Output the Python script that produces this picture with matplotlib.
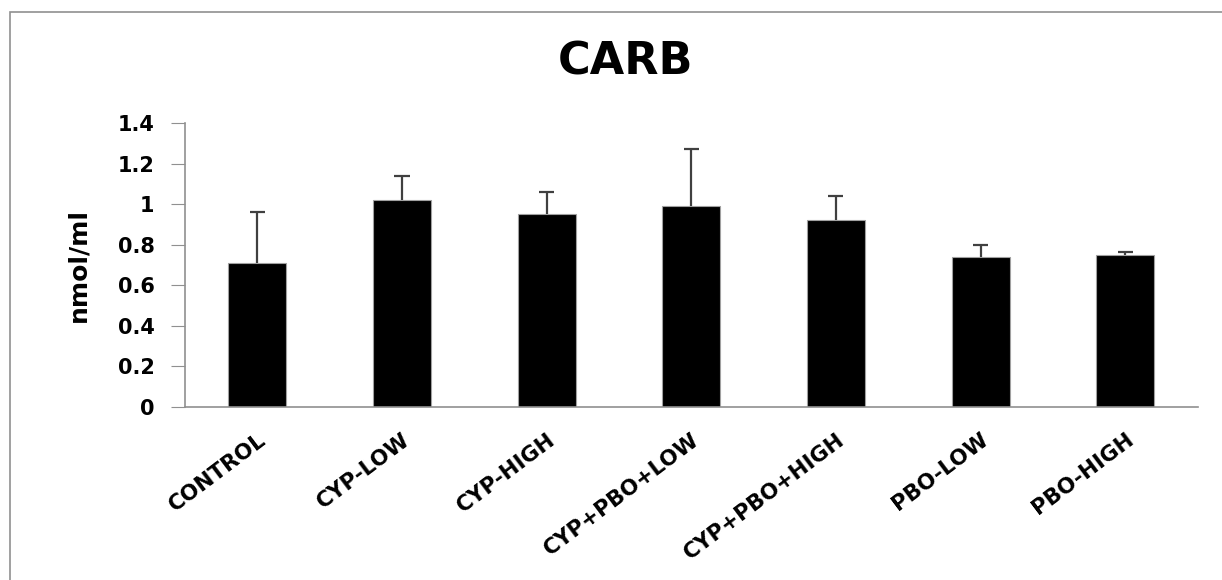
import matplotlib
matplotlib.use("Agg")
import matplotlib.pyplot as plt
from matplotlib.patches import Rectangle
import numpy as np

groups = ["CONTROL", "CYP-LOW", "CYP-HIGH", "CYP+PBO+LOW",
          "CYP+PBO+HIGH", "PBO-LOW", "PBO-HIGH"]
means = [0.71, 1.02, 0.95, 0.99, 0.92, 0.74, 0.75]
errors = [0.25, 0.12, 0.11, 0.28, 0.12, 0.06, 0.015]
y_ticks = [0, 0.2, 0.4, 0.6, 0.8, 1, 1.2, 1.4]
y_tick_labels = ["0", "0.2", "0.4", "0.6", "0.8", "1", "1.2", "1.4"]

plt.rcParams['font.family'] = ['DejaVu Sans']

fig = plt.figure(figsize=(12.22, 5.8), dpi=100)
ax = fig.add_axes([0.1514, 0.2983, 0.8286, 0.4897])

x = np.arange(len(groups))
tops = np.array(means) + np.array(errors)
ax.bar(x, means, width=0.4, color="black", edgecolor="#a0a0a0", linewidth=0.8,
       zorder=2)
# upper error bars only (no cap at the bar top)
ax.vlines(x, means, tops, color="#404040", linewidth=1.6, zorder=3)
ax.hlines(tops, x - 0.052, x + 0.052, color="#404040", linewidth=1.6,
          zorder=3)

ax.set_xlim(-0.5, len(groups) - 0.5)
ax.set_ylim(0, 1.4)
ax.set_yticks(y_ticks)
ax.set_yticklabels(y_tick_labels, fontsize=15, fontweight="bold")
ax.set_xticks(x)
ax.set_xticklabels(groups, fontsize=15.5, fontweight="bold", rotation=37,
                   ha="right", rotation_mode="anchor")
ax.tick_params(axis="x", length=0, pad=16)
ax.tick_params(axis="y", direction="out", length=10, color="#909090", pad=12)

for side in ["top", "right"]:
    ax.spines[side].set_visible(False)
for side in ["left", "bottom"]:
    ax.spines[side].set_color("#909090")
    ax.spines[side].set_linewidth(1.2)

ax.set_ylabel("nmol/ml", fontsize=18, fontweight="bold")
ax.yaxis.set_label_coords(-0.093, 0.5)
fig.text(0.512, 0.893, "CARB", fontsize=32, fontweight="bold",
         ha="center", va="center")

fig.patches.append(Rectangle((10 / 1222, -0.01), 1.05, 1 - 12 / 580 + 0.01,
                             transform=fig.transFigure, fill=False,
                             edgecolor="#909090", linewidth=1.2))

fig.savefig("out.png", dpi=100)
